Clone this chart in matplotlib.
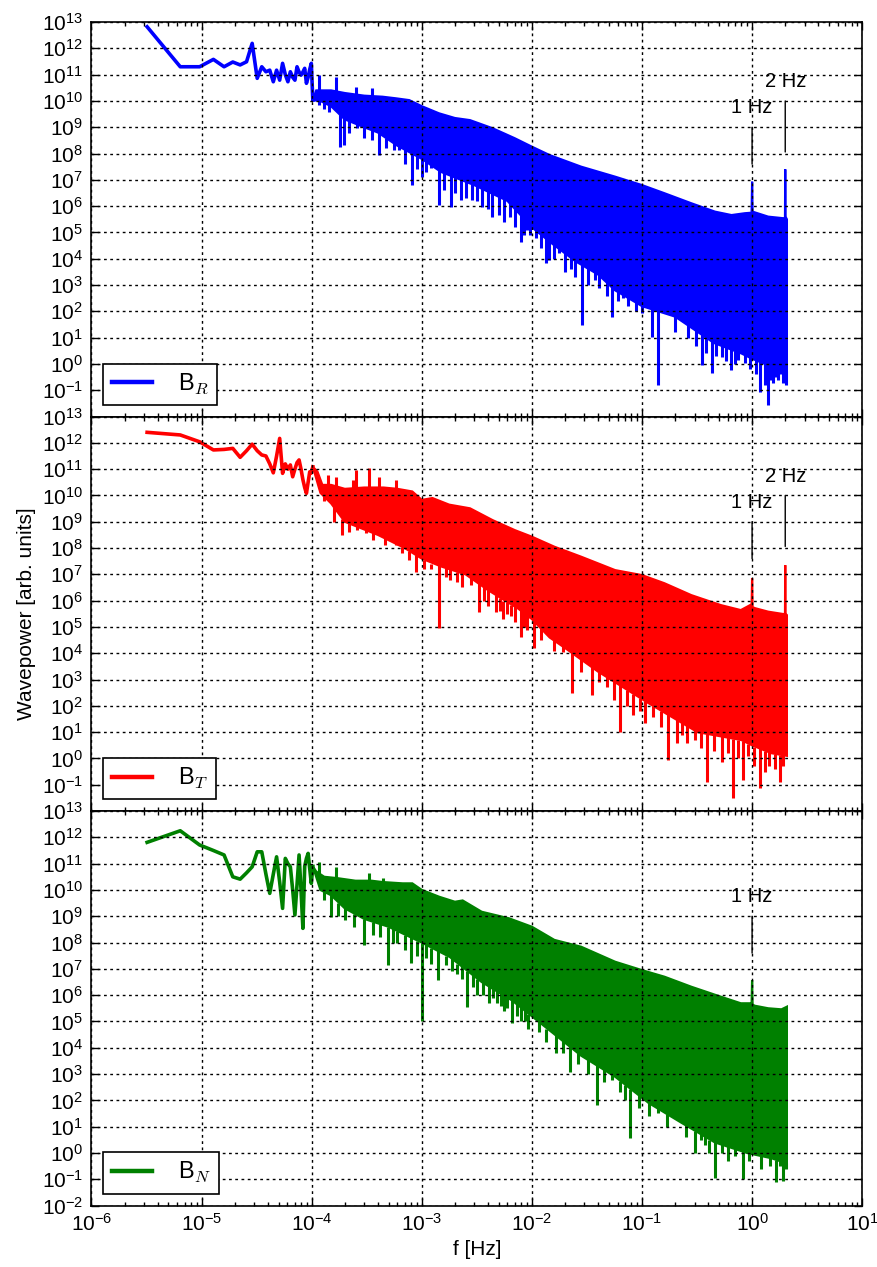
import numpy as np
import matplotlib
matplotlib.use("Agg")
import matplotlib.pyplot as plt
from matplotlib.lines import Line2D
from matplotlib.ticker import FixedLocator, FuncFormatter, LogLocator, NullLocator

plt.rcParams["font.family"] = ["Liberation Sans", "DejaVu Sans"]
plt.rcParams["mathtext.fontset"] = "cm"

# ---------------------------------------------------------------------------
# Spectral data (frequencies in Hz, power given as log10 of the wave power)
# ---------------------------------------------------------------------------

# lowest frequency bins, resolved individually
f_low = [3.2e-6, 6.4e-6, 9.6e-6, 1.28e-5, 1.6e-5, 1.92e-5, 2.24e-5, 2.56e-5,
         2.88e-5, 3.2e-5, 3.52e-5, 3.84e-5, 4.16e-5, 4.48e-5, 4.8e-5, 5.12e-5,
         5.44e-5, 5.76e-5, 6.08e-5, 6.4e-5, 6.72e-5, 7.04e-5, 7.36e-5, 7.68e-5,
         8.0e-5, 8.32e-5, 8.64e-5, 8.96e-5, 9.28e-5, 9.6e-5, 9.92e-5, 1.024e-4]

# ---- B_R ----
br_low = [12.82, 11.30, 11.30, 11.58, 11.30, 11.48, 11.37, 11.49, 12.19, 10.86,
          11.30, 11.11, 11.17, 10.73, 11.17, 10.79, 11.43, 11.00, 10.73, 11.11,
          10.90, 10.79, 11.30, 11.10, 10.98, 11.10, 11.24, 10.67, 10.90, 11.20,
          11.43, 10.03]
# upper edge of the densely sampled band
br_top_f = [1.024e-4, 1.1e-4, 1.3e-4, 1.5e-4, 2.0e-4, 3.0e-4, 4.4e-4, 5.8e-4,
            7.7e-4, 1.0e-3, 1.43e-3, 2.0e-3, 2.74e-3, 4.4e-3, 7.0e-3, 1.0e-2,
            1.45e-2, 2.8e-2, 5.7e-2, 0.1, 0.16, 0.28, 0.46, 0.65, 0.86, 0.99,
            1.0, 1.01, 1.4, 1.92, 1.99, 2.0, 2.01, 2.07]
br_top = [10.03, 10.40, 10.40, 10.40, 10.30, 10.20, 10.16, 10.10, 10.03, 9.80,
          9.53, 9.35, 9.27, 8.96, 8.58, 8.26, 7.94, 7.50, 7.12, 6.80, 6.49, 6.11,
          5.79, 5.66, 5.73, 5.75, 6.93, 5.79, 5.60, 5.54, 5.55, 7.40, 5.60, 5.50]
# lower edge of the solid part of the band
br_floor_f = [1.024e-4, 1.2e-4, 1.5e-4, 2.0e-4, 3.0e-4, 4.0e-4, 6.0e-4, 1.0e-3,
              1.5e-3, 3.0e-3, 6.0e-3, 1.0e-2, 1.5e-2, 2.5e-2, 4.0e-2, 5.7e-2,
              0.1, 0.2, 0.3, 0.45, 0.8, 1.0, 1.5, 2.07]
br_floor = [10.03, 10.0, 9.8, 9.3, 9.0, 8.8, 8.3, 7.8, 7.3, 6.8, 6.2, 5.2, 4.6,
            3.9, 3.4, 2.8, 2.2, 1.8, 1.3, 0.8, 0.4, 0.2, -0.1, -0.3]
# isolated spectral lines sticking out of the band (f, lower end, upper end)
br_spike_f = [1.17e-4, 1.67e-4, 2.5e-4, 3.55e-4,
              1.17e-4, 1.3e-4, 1.45e-4, 1.79e-4, 1.95e-4, 2.2e-4, 2.6e-4, 3.0e-4,
              3.5e-4, 4.1e-4, 4.7e-4, 5.6e-4, 6.2e-4, 7.0e-4, 8.2e-4, 9.0e-4,
              1.0e-3, 1.1e-3, 1.2e-3, 1.44e-3, 1.6e-3, 1.83e-3, 2.0e-3,
              2.26e-3, 2.5e-3, 2.87e-3, 3.2e-3, 3.54e-3, 4.0e-3, 4.36e-3, 5.0e-3,
              5.57e-3, 6.3e-3, 7.0e-3, 7.9e-3, 8.5e-3, 9.06e-3, 9.7e-3, 1.08e-2,
              1.2e-2, 1.33e-2, 1.42e-2, 1.6e-2, 1.75e-2, 2.01e-2, 2.25e-2,
              2.48e-2, 2.85e-2, 3.2e-2, 3.76e-2, 4.1e-2, 4.8e-2, 5.32e-2, 6.0e-2,
              6.79e-2, 7.4e-2, 8.8e-2, 9.95e-2, 0.123, 0.141, 0.2, 0.26, 0.31,
              0.348, 0.38, 0.429, 0.47, 0.528, 0.58, 0.65, 0.7, 0.748, 0.86,
              0.95, 1.08, 1.18, 1.3, 1.40, 1.47, 1.55, 1.65, 1.72, 1.82, 1.91,
              1.98, 2.05]
br_spike_lo = [10.3, 10.2, 10.1, 10.0,
               9.84, 9.70, 9.59, 8.26, 8.33, 8.80, 8.96, 8.60, 8.50, 7.94, 8.20,
               8.13, 8.13, 7.60, 6.80, 7.40, 7.12, 7.30, 7.44, 6.04, 6.60, 5.98,
               6.50, 6.23, 6.30, 6.23, 6.20, 5.98, 5.90, 5.60, 5.66, 5.41, 5.60,
               5.20, 4.65, 4.90, 5.09, 4.90, 4.78, 4.40, 3.82, 3.95, 4.00, 4.21,
               3.51, 3.60, 3.32, 1.48, 3.00, 3.19, 2.90, 2.60, 1.79, 2.40, 2.49,
               2.20, 2.00, 1.92, 1.03, -0.80, 1.20, 1.00, 0.70, -0.04, 0.40,
               -0.36, 0.30, 0.27, 0.10, -0.23, 0.00, 0.15, 0.02, -0.20, -0.40,
               -1.06, -0.80, -1.56, -0.60, -0.74, -0.50, -0.61, -0.40, -0.74,
               -0.50, -0.80]
br_spike_hi = [10.98, 10.92, 10.54, 10.48,
               10.1, 10.1, 9.9, 9.6, 9.4, 9.3, 9.2, 9.05, 8.95, 8.85, 8.6, 8.45,
               8.35, 8.2, 8.1, 7.95, 7.9, 7.8, 7.7, 7.4, 7.3, 7.2, 7.2, 7.1, 7.0,
               6.9, 6.85, 6.8, 6.7, 6.6, 6.5, 6.3, 6.2, 6.0, 5.8, 5.6, 5.5, 5.4,
               5.2, 5.0, 4.9, 4.8, 4.6, 4.5, 4.3, 4.1, 4.0, 3.9, 3.7, 3.5, 3.4,
               3.2, 3.0, 2.8, 2.7, 2.6, 2.4, 2.3, 2.2, 2.1, 1.9, 1.6, 1.35, 1.2,
               1.1, 0.9, 0.85, 0.75, 0.65, 0.55, 0.5, 0.45, 0.4, 0.3, 0.2, 0.15,
               0.05, 0.0, -0.05, -0.05, -0.1, -0.1, -0.15, -0.2, -0.2, -0.25]

# ---- B_T ----
bt_low = [12.40, 12.30, 12.04, 11.73, 11.75, 11.79, 11.45, 11.70, 11.95, 11.70,
          11.54, 11.50, 11.20, 10.86, 11.50, 12.17, 10.84, 11.20, 11.00, 11.16,
          10.71, 11.00, 11.25, 11.35, 11.00, 10.60, 10.30, 10.08, 10.50, 10.90,
          10.85, 11.09]
bt_top_f = [1.024e-4, 1.13e-4, 1.25e-4, 1.5e-4, 2.0e-4, 3.0e-4, 4.5e-4, 6.0e-4,
            8.2e-4, 1.0e-3, 1.25e-3, 1.77e-3, 2.74e-3, 4.4e-3, 7.0e-3, 1.0e-2,
            1.6e-2, 2.8e-2, 5.7e-2, 0.1, 0.16, 0.28, 0.52, 0.79, 0.96, 0.99, 1.0,
            1.01, 1.07, 1.4, 1.92, 1.99, 2.0, 2.01, 2.07]
bt_top = [11.09, 10.90, 10.40, 10.40, 10.25, 10.30, 10.30, 10.25, 10.15, 9.83,
          9.90, 9.65, 9.51, 9.06, 8.68, 8.43, 8.05, 7.67, 7.16, 6.97, 6.66, 6.21,
          5.83, 5.64, 5.83, 5.75, 6.85, 5.75, 5.71, 5.58, 5.49, 5.50, 7.35, 5.50,
          5.45]
bt_floor_f = [1.024e-4, 1.2e-4, 1.5e-4, 2.0e-4, 4.0e-4, 7.0e-4, 1.0e-3, 1.5e-3,
              2.5e-3, 4.0e-3, 7.5e-3, 1.0e-2, 1.45e-2, 2.0e-2, 4.0e-2, 0.115,
              0.32, 0.8, 1.0, 1.5, 2.07]
bt_floor = [11.09, 10.1, 9.7, 9.0, 8.5, 8.0, 7.6, 7.3, 7.0, 6.4, 5.7, 5.3, 4.6,
            4.2, 3.3, 2.1, 1.0, 0.7, 0.5, 0.2, 0.1]
bt_spike_f = [1.4e-4, 1.67e-4, 2.35e-4, 2.5e-4, 3.3e-4, 4.1e-4, 5.8e-4,
              1.3e-4, 1.6e-4, 1.9e-4, 2.2e-4, 2.6e-4, 3.1e-4, 3.6e-4, 4.6e-4,
              5.8e-4, 6.6e-4, 7.7e-4, 8.9e-4, 1.05e-3, 1.2e-3, 1.44e-3, 1.65e-3,
              1.8e-3, 2.1e-3, 2.33e-3, 2.8e-3, 3.3e-3, 3.7e-3, 4.0e-3, 4.68e-3,
              5.1e-3, 5.5e-3, 6.0e-3, 6.5e-3, 7.0e-3, 7.9e-3, 8.5e-3, 9.0e-3,
              1.04e-2, 1.2e-2, 1.6e-2, 1.93e-2, 2.31e-2, 2.8e-2, 3.51e-2, 4.1e-2,
              4.8e-2, 5.52e-2, 6.34e-2, 7.3e-2, 8.37e-2, 9.5e-2, 0.107, 0.127,
              0.15, 0.174, 0.207, 0.23, 0.255, 0.3, 0.34, 0.386, 0.45, 0.528,
              0.6, 0.675, 0.75, 0.83, 0.92, 1.05, 1.18, 1.3, 1.42, 1.6, 1.79,
              1.9]
bt_spike_lo = [10.3, 10.3, 10.2, 10.2, 10.2, 10.2, 10.2,
               9.8, 9.0, 8.49, 8.6, 8.70, 8.56, 8.3, 8.1, 8.11, 7.8, 7.54, 7.10,
               7.2, 7.20, 4.95, 6.9, 6.80, 6.7, 6.53, 6.60, 5.58, 6.0, 5.80,
               5.58, 5.6, 5.30, 5.5, 5.40, 5.2, 4.63, 5.0, 4.90, 4.19, 4.50,
               4.10, 4.06, 2.47, 3.30, 2.41, 2.90, 2.70, 2.22, 1.02, 2.00, 1.65,
               1.80, 1.33, 1.59, 1.20, -0.06, 0.57, 0.90, 0.57, 0.70, 0.40,
               -0.89, 0.30, -0.13, 0.20, -1.52, 0.00, -0.82, 0.10, -0.30, -1.14,
               -0.50, -0.30, -0.40, -0.89, -0.30]
bt_spike_hi = [10.78, 10.71, 10.59, 10.97, 11.03, 10.71, 10.59,
               10.3, 9.7, 9.1, 8.95, 8.85, 8.7, 8.6, 8.45, 8.2, 8.05, 7.9, 7.75,
               7.55, 7.4, 7.35, 7.25, 7.2, 7.1, 7.1, 6.9, 6.8, 6.5, 6.4, 6.2,
               6.1, 6.0, 5.95, 5.85, 5.8, 5.65, 5.55, 5.45, 5.25, 5.0, 4.5, 4.3,
               4.05, 3.8, 3.5, 3.3, 3.1, 2.95, 2.8, 2.6, 2.45, 2.3, 2.2, 2.0,
               1.8, 1.7, 1.55, 1.45, 1.3, 1.1, 1.0, 0.95, 0.9, 0.85, 0.8, 0.75,
               0.72, 0.65, 0.55, 0.45, 0.4, 0.3, 0.25, 0.18, 0.15, 0.12]

# ---- B_N ----
bn_low = [11.81, 12.25, 11.71, 11.50, 11.33, 10.50, 10.41, 10.65, 10.88, 11.45,
          11.45, 10.60, 9.87, 10.60, 11.26, 10.30, 9.30, 11.20, 11.00, 10.88,
          10.00, 9.05, 10.20, 11.33, 10.00, 8.54, 10.90, 11.20, 11.39, 10.80,
          10.25, 10.90]
bn_top_f = [1.024e-4, 1.1e-4, 1.3e-4, 1.7e-4, 2.5e-4, 3.5e-4, 4.4e-4, 6.7e-4,
            8.2e-4, 1.0e-3, 1.44e-3, 2.0e-3, 2.35e-3, 3.5e-3, 6.2e-3, 1.0e-2,
            1.6e-2, 2.8e-2, 5.7e-2, 0.1, 0.16, 0.28, 0.52, 0.79, 0.96, 0.99, 1.0,
            1.01, 1.05, 1.4, 1.85, 2.07]
bn_top = [10.90, 10.70, 10.50, 10.45, 10.35, 10.35, 10.30, 10.25, 10.25, 10.00,
          9.74, 9.55, 9.60, 9.17, 8.92, 8.60, 8.10, 7.84, 7.27, 6.95, 6.70, 6.32,
          5.94, 5.69, 5.69, 5.65, 6.57, 5.65, 5.60, 5.50, 5.46, 5.56]
bn_floor_f = [1.024e-4, 1.2e-4, 1.5e-4, 2.0e-4, 3.0e-4, 5.0e-4, 1.0e-3, 1.8e-3,
              3.5e-3, 6.6e-3, 1.0e-2, 2.8e-2, 5.7e-2, 0.115, 0.23, 0.46, 0.9,
              1.5, 2.07]
bn_floor = [10.90, 10.0, 9.8, 9.3, 8.9, 8.6, 8.0, 7.45, 6.5, 5.8, 5.2, 3.7, 2.9,
            1.9, 1.14, 0.4, 0.0, -0.2, -0.4]
bn_spike_f = [1.17e-4, 1.67e-4, 3.3e-4, 4.4e-4,
              1.3e-4, 1.5e-4, 1.75e-4, 2.0e-4, 2.4e-4, 3.0e-4, 3.6e-4, 4.2e-4,
              4.9e-4, 5.5e-4, 6.0e-4, 7.0e-4, 7.9e-4, 9.0e-4, 1.0e-3, 1.1e-3,
              1.2e-3, 1.4e-3, 1.65e-3, 1.9e-3, 2.1e-3, 2.3e-3, 2.59e-3, 2.9e-3,
              3.2e-3, 3.6e-3, 4.07e-3, 4.4e-3, 4.8e-3, 5.2e-3, 5.6e-3, 6.0e-3,
              6.62e-3, 7.3e-3, 8.0e-3, 8.6e-3, 9.2e-3, 1.15e-2, 1.35e-2, 1.64e-2,
              1.9e-2, 2.24e-2, 2.6e-2, 3.2e-2, 3.9e-2, 4.5e-2, 5.32e-2, 6.3e-2,
              7.0e-2, 7.8e-2, 9.3e-2, 0.115, 0.141, 0.17, 0.25, 0.303, 0.34,
              0.37, 0.41, 0.46, 0.53, 0.6, 0.7, 0.83, 0.93, 1.2, 1.45, 1.65,
              1.78, 1.9, 2.05]
bn_spike_lo = [10.6, 10.4, 10.3, 10.25,
               9.6, 8.98, 9.0, 8.86, 8.6, 7.90, 8.3, 8.2, 7.14, 8.0, 8.00, 7.7,
               7.21, 7.5, 5.00, 7.4, 7.20, 6.57, 7.14, 6.9, 6.80, 6.6, 5.56,
               6.3, 6.00, 6.0, 5.69, 5.9, 5.70, 5.6, 5.40, 5.5, 4.93, 5.2, 5.00,
               5.0, 4.70, 4.60, 4.20, 3.79, 3.80, 3.09, 3.40, 3.00, 1.82, 2.70,
               2.77, 2.30, 2.00, 0.55, 1.70, 1.40, 1.51, 1.00, 0.60, -0.02, 0.50,
               0.30, 0.00, -0.95, 0.00, -0.30, -0.10, -1.00, -0.30, -0.60,
               -0.50, -1.10, -0.50, -1.05, -0.60]
bn_spike_hi = [11.07, 10.86, 10.63, 10.44,
               10.0, 9.8, 9.5, 9.3, 9.1, 8.9, 8.8, 8.7, 8.6, 8.55, 8.45, 8.3,
               8.2, 8.05, 8.0, 7.95, 7.8, 7.7, 7.5, 7.4, 7.2, 7.2, 6.9, 6.8, 6.6,
               6.5, 6.4, 6.3, 6.25, 6.1, 6.1, 5.95, 5.9, 5.7, 5.6, 5.45, 5.3,
               5.0, 4.7, 4.5, 4.3, 4.1, 3.8, 3.6, 3.35, 3.2, 3.0, 2.75, 2.6,
               2.45, 2.2, 1.95, 1.7, 1.5, 1.05, 0.85, 0.75, 0.65, 0.5, 0.45,
               0.35, 0.3, 0.2, 0.1, 0.0, -0.1, -0.15, -0.25, -0.3, -0.35, -0.4]

# annotated instrument lines: (frequency, text)
marks_12 = [(1.0, "1 Hz"), (2.0, "2 Hz")]
marks_1 = [(1.0, "1 Hz")]

y_decades = list(range(-2, 14))


def decade_label(v, pos, hide_bottom):
    e = int(round(np.log10(v)))
    if hide_bottom and e == -2:
        return ""
    return r"$\mathdefault{10^{%d}}$" % e


def draw_panel(ax, color, low, top_f, top, floor_f, floor, spk_f, spk_lo, spk_hi,
               label, marks, hide_bottom):
    ax.plot(f_low, np.power(10.0, low), color=color, lw=2.6,
            solid_joinstyle="round")
    xs = list(top_f) + list(floor_f)[::-1]
    ys = np.power(10.0, list(top) + list(floor)[::-1])
    ax.fill(xs, ys, facecolor=color, edgecolor=color, lw=1.6)
    ax.vlines(spk_f, np.power(10.0, spk_lo), np.power(10.0, spk_hi),
              colors=color, lw=2.2)

    ax.set_xscale("log")
    ax.set_yscale("log")
    ax.set_xlim(1e-6, 1e1)
    ax.set_ylim(1e-2, 1e13)
    ax.yaxis.set_major_locator(FixedLocator([10.0 ** e for e in y_decades]))
    ax.yaxis.set_minor_locator(NullLocator())
    ax.yaxis.set_major_formatter(
        FuncFormatter(lambda v, p: decade_label(v, p, hide_bottom)))
    ax.xaxis.set_major_locator(LogLocator(base=10, numticks=20))
    ax.xaxis.set_minor_locator(LogLocator(base=10, subs=np.arange(2, 10),
                                          numticks=20))
    ax.tick_params(which="both", direction="in", top=True, right=True,
                   width=1.0, labelsize=15)
    ax.tick_params(which="major", length=6)
    ax.tick_params(which="minor", length=3)
    ax.tick_params(axis="y", pad=6)
    ax.tick_params(axis="x", pad=5)
    for sp in ax.spines.values():
        sp.set_linewidth(1.2)

    ax.set_axisbelow(False)
    ax.grid(True, which="major", color="k", linestyle=(0, (2.0, 2.5)), lw=1.0)

    for f, txt in marks:
        if txt.startswith("1"):
            t_exp, l_top, l_bot = 9.75, 9.0, 7.6
        else:
            t_exp, l_top, l_bot = 10.73, 10.0, 8.06
        ax.text(f, 10.0 ** t_exp, txt, ha="center", va="center", fontsize=14.5)
        ax.annotate("", xy=(f, 10.0 ** l_bot), xytext=(f, 10.0 ** l_top),
                    arrowprops=dict(arrowstyle="-", color="k", lw=1.0,
                                    shrinkA=0, shrinkB=0))

    leg = ax.legend([Line2D([], [], color=color, lw=3.2)], [label],
                    loc="lower left", fontsize=17, fancybox=False,
                    framealpha=1.0, edgecolor="k", handlelength=1.7,
                    handletextpad=1.1, borderpad=0.35, borderaxespad=0.5)
    leg.get_frame().set_linewidth(1.2)


fig, axes = plt.subplots(3, 1, figsize=(8.78, 12.67), dpi=100, sharex=True)
fig.subplots_adjust(left=0.1042, right=0.982, top=0.9826, bottom=0.0485,
                    hspace=0)

draw_panel(axes[0], "#0000ff", br_low, br_top_f, br_top, br_floor_f, br_floor,
           br_spike_f, br_spike_lo, br_spike_hi, r"B$_R$", marks_12, True)
draw_panel(axes[1], "#ff0000", bt_low, bt_top_f, bt_top, bt_floor_f, bt_floor,
           bt_spike_f, bt_spike_lo, bt_spike_hi, r"B$_T$", marks_12, True)
draw_panel(axes[2], "#008000", bn_low, bn_top_f, bn_top, bn_floor_f, bn_floor,
           bn_spike_f, bn_spike_lo, bn_spike_hi, r"B$_N$", marks_1, False)

axes[1].set_ylabel("Wavepower [arb. units]", fontsize=15)
axes[2].set_xlabel("f [Hz]", fontsize=15)

fig.savefig("out.png", dpi=100)
